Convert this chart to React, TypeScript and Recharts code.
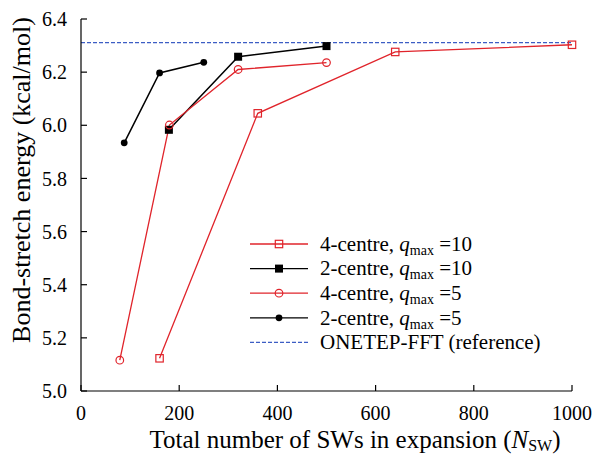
import { Legend, Line, LineChart, ReferenceLine, XAxis, YAxis } from 'recharts'

const FONT = 'Liberation Serif, Tinos, DejaVu Serif, Times New Roman, Times, serif'
const RED = '#e0242b'
const BLACK = '#000000'
const BLUE = '#3c5dc4'

// x: total number of SWs, y: bond-stretch energy (kcal/mol)
const nsw4c10 = [160, 360, 640, 1000]
const e4c10 = [5.123, 6.045, 6.276, 6.303]
const nsw2c10 = [179, 320, 500]
const e2c10 = [5.983, 6.258, 6.298]
const nsw4c5 = [79, 180, 320, 500]
const e4c5 = [5.116, 6.001, 6.21, 6.236]
const nsw2c5 = [88, 160, 250]
const e2c5 = [5.934, 6.197, 6.237]
const referenceEnergy = 6.311

const xTicks = [0, 200, 400, 600, 800, 1000]
const yTicks = [5.0, 5.2, 5.4, 5.6, 5.8, 6.0, 6.2, 6.4]

const zip = (n: number[], e: number[]) => n.map((v, i) => ({ n: v, e: e[i] }))

type Marker = 'openSquare' | 'square' | 'openCircle' | 'circle'

const series = [
  { key: 's4c10', name: '4-centre', q: 10, color: RED, marker: 'openSquare' as Marker, data: zip(nsw4c10, e4c10) },
  { key: 's2c10', name: '2-centre', q: 10, color: BLACK, marker: 'square' as Marker, data: zip(nsw2c10, e2c10) },
  { key: 's4c5', name: '4-centre', q: 5, color: RED, marker: 'openCircle' as Marker, data: zip(nsw4c5, e4c5) },
  { key: 's2c5', name: '2-centre', q: 5, color: BLACK, marker: 'circle' as Marker, data: zip(nsw2c5, e2c5) },
]

function drawMarker(kind: Marker, color: string, cx: number, cy: number, key?: string | number) {
  if (kind === 'openSquare')
    return <rect key={key} x={cx - 3.7} y={cy - 3.7} width={7.4} height={7.4} fill="none" stroke={color} strokeWidth={1.2} />
  if (kind === 'square')
    return <rect key={key} x={cx - 4} y={cy - 4} width={8} height={8} fill={color} stroke="none" />
  if (kind === 'openCircle')
    return <circle key={key} cx={cx} cy={cy} r={3.8} fill="none" stroke={color} strokeWidth={1.2} />
  return <circle key={key} cx={cx} cy={cy} r={3.4} fill={color} stroke="none" />
}

function ChartLegend() {
  const rowH = 24.6
  return (
    <svg width={340} height={125} style={{ fontFamily: FONT, overflow: 'visible' }}>
      {series.map((s, i) => {
        const y = 14 + i * rowH
        return (
          <g key={s.key}>
            <line x1={5} x2={63} y1={y} y2={y} stroke={s.color} strokeWidth={1.3} />
            {drawMarker(s.marker, s.color, 34, y)}
            <text x={75} y={y + 6.7} fontSize={21} fill="#000">
              {s.name}, <tspan fontStyle="italic">q</tspan><tspan dy={4} fontSize={14}>max</tspan><tspan dy={-4}> ={s.q}</tspan>
            </text>
          </g>
        )
      })}
      <line x1={5} x2={63} y1={14 + 4 * rowH} y2={14 + 4 * rowH} stroke={BLUE} strokeWidth={1.2} strokeDasharray="4 2" />
      <text x={75} y={14 + 4 * rowH + 6.7} fontSize={21} fill="#000">ONETEP-FFT (reference)</text>
    </svg>
  )
}

export default function App() {
  return (
    <div style={{ position: 'absolute', left: 0, top: 0, background: '#fff', fontFamily: FONT }}>
      <LineChart
        width={596}
        height={455}
        margin={{ top: 19, right: 24, bottom: 0, left: 0 }}
        style={{ fontFamily: FONT }}
      >
        <XAxis
          dataKey="n"
          type="number"
          domain={[0, 1000]}
          ticks={xTicks}
          height={64}
          tickSize={-6}
          tickMargin={21}
          stroke={BLACK}
          strokeWidth={1.2}
          tick={{ fontSize: 20, fill: '#000', fontFamily: FONT }}
          label={{
            content: () => (
              <text x={355} y={448} textAnchor="middle" fontSize={25} fill="#000" fontFamily={FONT}>
                Total number of SWs in expansion (<tspan fontStyle="italic">N</tspan><tspan dy={3} fontSize={16}>SW</tspan><tspan dy={-3}>)</tspan>
              </text>
            ),
          }}
        />
        <XAxis
          xAxisId="top"
          orientation="top"
          dataKey="n"
          type="number"
          domain={[0, 1000]}
          ticks={xTicks}
          height={0}
          tickSize={-6}
          tick={false}
          stroke={BLACK}
          strokeWidth={1.2}
        />
        <YAxis
          type="number"
          domain={[5.0, 6.4]}
          ticks={yTicks}
          width={81}
          tickSize={-6}
          tickMargin={20}
          stroke={BLACK}
          strokeWidth={1.2}
          tickFormatter={(v: number) => v.toFixed(1)}
          tick={{ fontSize: 20, fill: '#000', fontFamily: FONT }}
          label={{
            content: () => (
              <text transform="translate(30,180) rotate(-90)" textAnchor="middle" fontSize={26} fill="#000" fontFamily={FONT}>
                Bond-stretch energy (kcal/mol)
              </text>
            ),
          }}
        />
        <YAxis
          yAxisId="right"
          orientation="right"
          type="number"
          domain={[5.0, 6.4]}
          ticks={yTicks}
          width={0}
          tickSize={-6}
          tick={false}
          stroke={BLACK}
          strokeWidth={1.2}
        />
        <ReferenceLine y={referenceEnergy} stroke={BLUE} strokeWidth={1.2} strokeDasharray="4 2" />
        {series.map((s) => (
          <Line
            key={s.key}
            data={s.data}
            dataKey="e"
            stroke={s.color}
            strokeWidth={s.color === RED ? 1.3 : 1.5}
            isAnimationActive={false}
            dot={(p: any) => drawMarker(s.marker, s.color, p.cx, p.cy, `${s.key}-${p.index}`)}
            activeDot={false}
          />
        ))}
        <Legend
          verticalAlign="middle"
          align="center"
          content={() => <ChartLegend />}
          wrapperStyle={{ position: 'absolute', left: 245, top: 230, width: 340, height: 125 }}
        />
      </LineChart>
    </div>
  )
}
